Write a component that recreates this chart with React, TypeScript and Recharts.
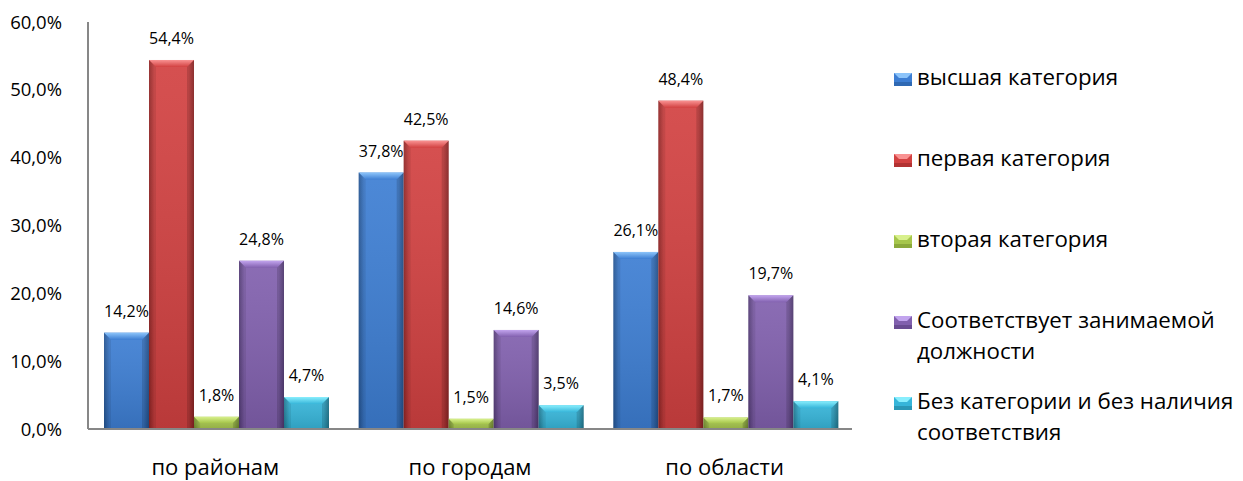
import React from 'react';
import { BarChart, Bar, XAxis, YAxis, Legend, LabelList } from 'recharts';

// ─── Data ───────────────────────────────────────────────────────

const groups = ['по районам', 'по городам', 'по области'];
const highest = [14.2, 37.8, 26.1];
const first = [54.4, 42.5, 48.4];
const second = [1.8, 1.5, 1.7];
const matches = [24.8, 14.6, 19.7];
const noCategory = [4.7, 3.5, 4.1];
const yTicks = [0, 10, 20, 30, 40, 50, 60];

const series = [
  { key: 'highest', name: 'высшая категория', values: highest, base: '#3d7ed3', edge: '#275b9e', light: '#8cc4fa' },
  { key: 'first', name: 'первая категория', values: first, base: '#d24141', edge: '#9c2828', light: '#f99292' },
  { key: 'second', name: 'вторая категория', values: second, base: '#a6c64c', edge: '#7a9631', light: '#d8f08c' },
  { key: 'matches', name: 'Соответствует занимаемой\nдолжности', values: matches, base: '#8160ae', edge: '#5a407f', light: '#c2a4ee' },
  { key: 'noCategory', name: 'Без категории и без наличия\nсоответствия', values: noCategory, base: '#36b5d9', edge: '#23849f', light: '#88eefd' },
];

const data = groups.map((group, i) => {
  const row: Record<string, string | number> = { group };
  series.forEach((s) => {
    row[s.key] = s.values[i];
  });
  return row;
});

const FONT = '"Open Sans", "DejaVu Sans", sans-serif';
const AXIS = '#878787';

const pct = (v: number) => `${v.toFixed(1).replace('.', ',')}%`;

type Series = (typeof series)[number];

// ─── Bevelled bar ───────────────────────────────────────────────

function BevelBar(props: any & { s: Series }) {
  const { x, y, width, height, s } = props;
  if (!height || height <= 0) return null;
  const b = Math.min(7, height / 2, width / 4);
  return (
    <g>
      <rect x={x} y={y} width={width} height={height} fill={`url(#body-${s.key})`} />
      <rect x={x} y={y} width={width} height={height} fill="url(#shade)" />
      <polygon
        points={`${x},${y} ${x + width},${y} ${x + width - b},${y + b} ${x + b},${y + b}`}
        fill={`url(#top-${s.key})`}
      />
      <polygon points={`${x},${y} ${x + b},${y + b} ${x + b},${y + height} ${x},${y + height}`} fill="#000" fillOpacity={0.08} />
      <polygon
        points={`${x + width},${y} ${x + width - b},${y + b} ${x + width - b},${y + height} ${x + width},${y + height}`}
        fill="#000"
        fillOpacity={0.14}
      />
    </g>
  );
}

// ─── Legend ─────────────────────────────────────────────────────

function LegendList() {
  return (
    <div style={{ position: 'relative', width: 349, height: 481, fontFamily: FONT }}>
      {series.map((s, i) => (
        <div
          key={s.key}
          style={{ position: 'absolute', left: 0, top: 61 + i * 81, display: 'flex', alignItems: 'flex-start' }}
        >
          <svg width={18} height={13} style={{ marginTop: 12, marginRight: 5, flex: 'none' }}>
            <rect x={0} y={0} width={18} height={13} fill={s.base} />
            <polygon points="0,0 18,0 13,5 5,5" fill={s.light} />
            <rect x={0} y={9} width={18} height={4} fill={s.edge} fillOpacity={0.6} />
          </svg>
          <div style={{ whiteSpace: 'pre', lineHeight: '31px', fontSize: 22.3, color: '#000' }}>{s.name}</div>
        </div>
      ))}
    </div>
  );
}

// ─── Chart ──────────────────────────────────────────────────────

export default function App() {
  return (
    <div style={{ position: 'absolute', left: 0, top: 0, width: 1243, height: 481, background: '#fff', fontFamily: FONT }}>
      <BarChart
        width={1243}
        height={481}
        data={data}
        margin={{ top: 22, right: 42, bottom: 0, left: 0 }}
        barCategoryGap={16}
        barGap={0}
      >
        <defs>
          <linearGradient id="shade" x1="0" y1="0" x2="0" y2="1">
            <stop offset="0%" stopColor="#fff" stopOpacity={0.08} />
            <stop offset="100%" stopColor="#000" stopOpacity={0.12} />
          </linearGradient>
          {series.map((s) => (
            <React.Fragment key={s.key}>
              <linearGradient id={`body-${s.key}`} x1="0" y1="0" x2="1" y2="0">
                <stop offset="0%" stopColor={s.edge} />
                <stop offset="12%" stopColor={s.base} />
                <stop offset="88%" stopColor={s.base} />
                <stop offset="100%" stopColor={s.edge} />
              </linearGradient>
              <linearGradient id={`top-${s.key}`} x1="0" y1="0" x2="0" y2="1">
                <stop offset="0%" stopColor={s.light} />
                <stop offset="100%" stopColor={s.base} />
              </linearGradient>
            </React.Fragment>
          ))}
        </defs>
        <XAxis
          dataKey="group"
          height={52}
          tickSize={0}
          tickMargin={30}
          axisLine={{ stroke: AXIS, strokeWidth: 2 }}
          tick={{ fill: '#000', fontSize: 22 }}
        />
        <YAxis
          domain={[0, 60]}
          ticks={yTicks}
          width={88}
          tickSize={0}
          tickMargin={26}
          tickFormatter={pct}
          axisLine={{ stroke: AXIS, strokeWidth: 2 }}
          tick={{ fill: '#000', fontSize: 18.5 }}
        />
        <Legend
          layout="vertical"
          align="right"
          verticalAlign="top"
          wrapperStyle={{ left: 894, top: 0, width: 349, height: 481 }}
          content={() => <LegendList />}
        />
        {series.map((s) => (
          <Bar
            key={s.key}
            dataKey={s.key}
            name={s.name}
            fill={s.base}
            isAnimationActive={false}
            shape={(p: any) => <BevelBar {...p} s={s} />}
          >
            <LabelList dataKey={s.key} position="top" offset={16} formatter={(v: any) => pct(Number(v))} fill="#000" fontSize={16} />
          </Bar>
        ))}
      </BarChart>
    </div>
  );
}
